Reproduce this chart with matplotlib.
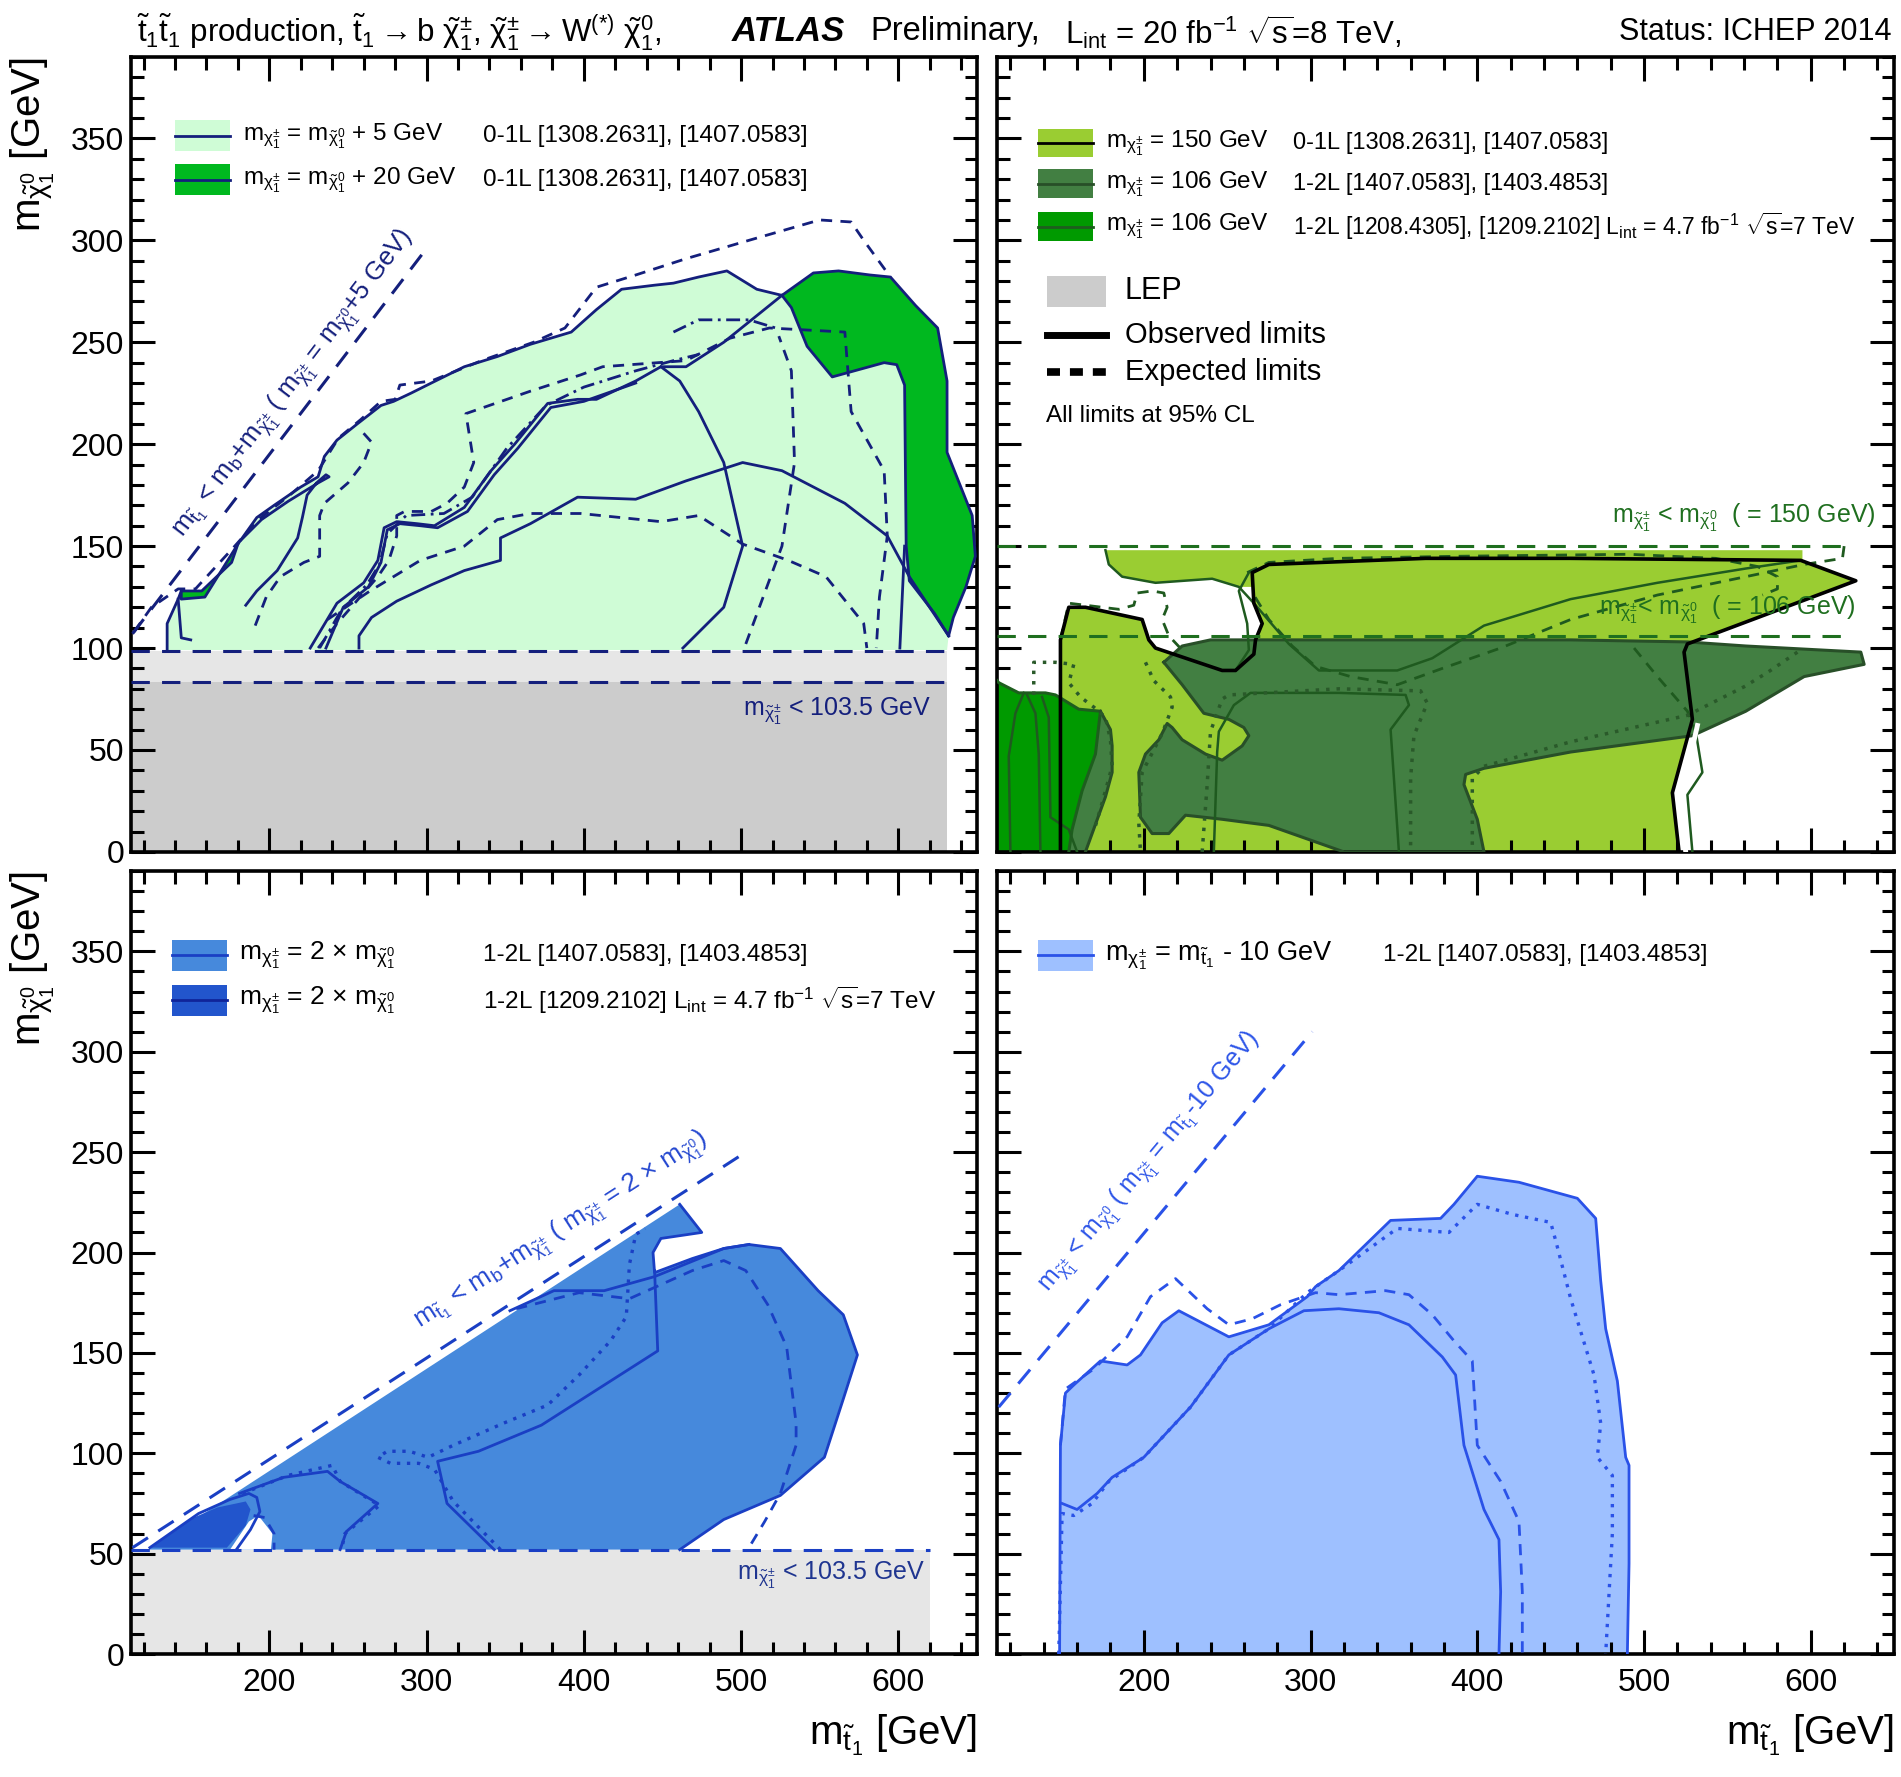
import numpy as np
import matplotlib
matplotlib.use("Agg")
import matplotlib.pyplot as plt
from matplotlib.patches import Polygon, Rectangle
from matplotlib.ticker import MultipleLocator

plt.rcParams['font.family'] = ['Liberation Sans', 'DejaVu Sans']
plt.rcParams['mathtext.fontset'] = 'custom'
plt.rcParams['mathtext.rm'] = 'Liberation Sans'
plt.rcParams['mathtext.it'] = 'Liberation Sans:italic'
plt.rcParams['mathtext.bf'] = 'Liberation Sans:bold'
plt.rcParams['mathtext.default'] = 'regular'

# ---------------- data (m_stop, m_chi0) in GeV ----------------
XLIM = (112, 650)
YLIM = (0, 390)

# top-left: m_chi+- = m_chi0 + 5 / + 20 GeV
tl_fill_p5 = [(135, 99), (135, 112), (142, 124), (144, 128), (157, 128), (176, 142), (180, 151),
              (192, 164), (203, 170), (220, 179), (231, 184), (235, 194), (243, 202), (256, 210),
              (271, 219), (279, 221), (290, 225), (303, 230), (324, 238), (345, 243), (366, 249),
              (392, 255), (408, 266), (424, 276), (445, 278), (457, 279), (473, 282), (491, 285),
              (510, 276), (526, 273), (546, 284), (562, 285), (582, 283), (595, 282), (611, 268),
              (625, 257), (631, 231), (631, 196), (647, 165), (649, 145), (643, 130), (635, 115),
              (632, 106), (631, 99)]
tl_fill_p20 = [(526, 273), (546, 284), (562, 285), (582, 283), (595, 282), (611, 268), (625, 257),
               (631, 231), (631, 196), (647, 165), (649, 145), (643, 130), (635, 115), (632, 106),
               (623, 117), (607, 133), (605, 150), (604, 229), (599, 239), (591, 240), (558, 233),
               (542, 248), (532, 267)]
tl_fill_p20_low = [(144, 128), (157, 128), (176, 142), (180, 151), (159, 125), (144, 124)]
tl_obs = [
    [(226, 100), (243, 122), (260, 132), (269, 143), (273, 159), (281, 162), (294, 161), (305, 160),
     (324, 169), (341, 187), (356, 200), (377, 220), (396, 222), (408, 222), (433, 231), (449, 238),
     (465, 238), (489, 250), (526, 273)],
    [(236, 100), (247, 120), (263, 130), (271, 142), (275, 158), (283, 161), (296, 160), (307, 159),
     (326, 167), (343, 185), (358, 198), (379, 218), (400, 221), (433, 230)],
    [(185, 121), (192, 128), (205, 138), (218, 154), (221, 164), (224, 175), (230, 181), (236, 185),
     (238, 184), (231, 181), (212, 172), (195, 163), (182, 153)],
    [(257, 100), (257, 106), (265, 115), (281, 123), (303, 131), (324, 138), (347, 143), (347, 154),
     (366, 161), (396, 174), (433, 173), (465, 182), (501, 191), (526, 187), (566, 171), (593, 155),
     (607, 135), (632, 106)],
    [(463, 100), (489, 120), (501, 150), (489, 191), (473, 216), (461, 231), (449, 238)],
    [(604, 150), (601, 100)],
    [(142, 124), (144, 105), (150, 104)],
]
tl_exp = [
    [(114, 108), (125, 120), (142, 129), (153, 129), (178, 150), (193, 163), (213, 175), (231, 187),
     (244, 203), (258, 212), (271, 221), (280, 222), (283, 229), (303, 231), (335, 241), (368, 250),
     (388, 257), (408, 277), (433, 283), (465, 291), (505, 300), (550, 310), (570, 309), (578, 300),
     (595, 282)],
    [(191, 111), (198, 125), (207, 135), (222, 142), (232, 145), (232, 165), (235, 171), (250, 181),
     (260, 191), (265, 201), (258, 207)],
    [(231, 100), (243, 112), (269, 135), (276, 143), (281, 155), (281, 165), (286, 167), (303, 167),
     (313, 171), (324, 179), (330, 191), (325, 215), (366, 226), (398, 234), (412, 238), (465, 241),
     (493, 252), (518, 257), (566, 255), (570, 216), (591, 187), (593, 155), (588, 125), (586, 100)],
    [(237, 114), (264, 128), (296, 143), (324, 150), (345, 163), (366, 166), (398, 166), (449, 162),
     (473, 165), (501, 151), (530, 143), (554, 135), (578, 112), (580, 100)],
    [(503, 102), (526, 150), (534, 191), (532, 236), (524, 253)],
]
tl_dashdot = [
    [(232, 100), (246, 119), (262, 131), (270, 141), (275, 156), (287, 165), (311, 166), (329, 174),
     (351, 198), (376, 219), (400, 228), (433, 236), (457, 241), (473, 244)],
    [(457, 255), (473, 261), (505, 261), (522, 257)],
]
tl_kin = [(113, 107), (297, 293)]
tl_lep = [98.5, 83.5]
tl_lep_xmax = 631

# top-right: m_chi+- = 150 / 106 GeV
tr_fill_150 = [(177, 148), (595, 148), (595, 143), (627, 133), (526, 102), (524, 98), (529, 65),
               (517, 29), (521, 0), (150, 0), (150, 104), (155, 120), (165, 120), (199, 114),
               (203, 104), (207, 100), (247, 89), (255, 89), (266, 97), (267, 104), (271, 112),
               (266, 122), (265, 130), (257, 130), (241, 134), (207, 132), (187, 135), (179, 141)]
tr_obs_150 = [(150, 0), (150, 104), (155, 120), (165, 120), (199, 114), (203, 104), (207, 100),
              (247, 89), (255, 89), (266, 97), (267, 104), (271, 112), (266, 122), (265, 137),
              (275, 141), (369, 144), (456, 144), (594, 143), (627, 133), (526, 102), (524, 98),
              (529, 65), (517, 29), (521, 0)]
tr_fill_106 = [(212, 93), (223, 101), (240, 104), (261, 104), (352, 104), (456, 104), (526, 103),
               (561, 101), (630, 98), (632, 92), (596, 86), (561, 69), (529, 57), (456, 49),
               (404, 41), (393, 38), (392, 33), (400, 16), (404, 0), (320, 0), (275, 13), (247, 16),
               (225, 18), (215, 9), (205, 9), (198, 17), (197, 39), (201, 48), (209, 55), (214, 63),
               (217, 61), (223, 55), (237, 48), (247, 45), (259, 52), (263, 57), (260, 61), (251, 65),
               (236, 68), (223, 82)]
tr_fill_7tev = [(112, 84), (113, 83), (125, 78), (141, 78), (147, 77), (161, 70), (174, 69),
                (173, 62), (171, 48), (163, 30), (157, 11), (155, 0), (112, 0)]
tr_sliver_106 = [(174, 69), (180, 60), (181, 52), (181, 39), (177, 27), (165, 0), (155, 0),
                 (157, 11), (163, 30), (171, 48), (173, 62)]
tr_thin = [
    [(177, 148), (179, 141), (187, 135), (207, 132), (241, 134), (257, 130), (266, 122), (287, 102),
     (305, 89), (352, 89), (373, 95), (404, 111), (456, 124), (508, 132), (561, 139), (594, 143)],
    [(263, 137), (257, 128), (262, 112), (263, 99), (255, 89)],
    [(120, 0), (119, 47), (123, 68), (128, 78)],
    [(130, 77), (135, 68), (137, 48), (138, 0)],
    [(139, 76), (143, 66), (144, 17), (155, 11), (160, 0)],
    [(531, 59), (535, 39), (526, 28), (529, 0)],
    [(242, 0), (244, 49), (245, 59), (254, 72), (264, 78), (317, 78), (357, 77), (359, 72),
     (348, 60), (353, 0)],
]
tr_dash = [
    [(620, 150), (619, 144), (596, 141), (561, 135), (508, 126), (456, 114), (414, 100), (379, 90),
     (352, 82), (324, 86), (303, 91), (289, 101), (275, 114), (266, 126)],
    [(262, 137), (275, 142), (317, 144), (386, 145), (491, 146), (543, 144), (568, 140), (580, 135),
     (580, 129), (571, 126)],
    [(494, 100), (508, 86), (526, 69), (531, 59)],
    [(150, 104), (155, 122), (185, 119), (194, 121), (196, 127), (205, 128), (212, 127), (214, 120),
     (211, 114), (215, 106), (223, 99)],
]
tr_dot = [
    [(134, 77), (134, 93), (147, 93), (158, 92), (155, 83), (162, 76), (170, 71), (177, 66),
     (180, 55), (181, 42), (175, 24), (170, 10)],
    [(201, 93), (206, 84), (216, 76), (217, 71), (211, 58), (199, 39), (197, 14), (198, 0)],
    [(592, 98), (574, 88), (560, 81), (526, 67), (456, 54), (404, 42), (397, 36), (397, 0)],
    [(235, 0), (238, 33), (240, 59), (247, 75), (251, 77), (317, 80), (366, 79), (370, 73),
     (362, 57), (360, 36), (360, 0)],
]
tr_white = [(532, 62), (526, 40), (521, 28), (525, 0)]
tr_kin_lines = [150, 106]
tr_kin_xmax = 620

# bottom-left: m_chi+- = 2 x m_chi0
bl_fill = [(123, 52), (461, 224), (475, 210), (449, 207), (444, 200), (445, 190), (469, 197),
           (489, 202), (505, 204), (525, 202), (549, 181), (565, 169), (574, 149), (565, 127),
           (553, 98), (525, 79), (489, 67), (461, 52)]
bl_hole = [(175, 52), (187, 66), (193, 69), (202, 60), (201, 52)]
bl_fill_7tev = [(125, 53), (149, 67), (167, 73), (185, 76), (188, 72), (185, 64), (173, 53)]
bl_obs = [
    [(124, 53), (155, 70), (175, 77), (187, 80), (192, 78), (194, 71), (188, 62), (179, 52)],
    [(181, 80), (209, 88), (237, 91), (245, 86), (269, 75), (249, 61), (245, 52)],
    [(343, 52), (313, 75), (307, 96), (333, 101), (373, 114), (413, 134), (447, 151), (445, 191)],
    [(353, 171), (381, 181), (413, 181), (445, 188), (489, 202), (505, 204)],
]
bl_exp = [
    [(357, 172), (397, 180), (429, 177), (469, 191), (489, 196), (503, 191), (517, 174), (529, 153),
     (535, 115), (535, 104), (525, 80), (515, 66), (505, 53)],
    [(190, 69), (197, 68), (203, 60), (203, 52)],
]
bl_dot = [
    [(183, 80), (212, 89), (240, 94), (245, 86), (270, 74), (248, 60), (246, 52)],
    [(347, 52), (317, 76), (305, 92), (295, 95), (277, 95), (269, 98), (275, 101), (289, 101),
     (301, 98), (317, 104), (349, 115), (377, 124), (397, 139), (417, 156), (427, 168), (429, 194),
     (433, 209), (439, 212)],
]
bl_kin = [(113, 53), (503, 250)]
bl_lep = 51.75
bl_lep_xmax = 620

# bottom-right: m_chi+- = m_stop - 10 GeV
br_fill = [(149.5, 0), (150, 104), (153, 130), (158, 134), (174, 146), (190, 144), (198, 149),
           (211, 165), (221, 171), (251, 158), (275, 164), (298, 178), (303, 183), (317, 191),
           (348, 216), (378, 217), (386, 224), (400, 238), (425, 235), (460, 227), (471, 217),
           (474, 186), (477, 162), (484, 136), (489, 98), (491, 94), (491, 45), (490, 0)]
br_obs = [(151, 75), (160, 72), (172, 80), (181, 88), (200, 98), (228, 123), (251, 149), (275, 162),
          (296, 171), (317, 172), (341, 170), (359, 164), (379, 148), (387, 139), (392, 104),
          (404, 72), (413, 57), (414, 31), (413, 0)]
br_exp = [(150, 104), (153, 132), (170, 142), (190, 158), (204, 178), (219, 187), (238, 172),
          (251, 164), (265, 167), (282, 174), (303, 180), (317, 179), (345, 181), (359, 179),
          (373, 169), (386, 156), (397, 146), (400, 104), (414, 86), (425, 66), (427, 31), (427, 0)]
br_dot = [(149, 0), (151, 70), (158, 69), (169, 75), (179, 86), (200, 98), (228, 123), (251, 149),
          (275, 162), (298, 180), (317, 191), (352, 212), (383, 210), (400, 224), (421, 219),
          (444, 215), (447, 206), (456, 177), (470, 139), (474, 115), (472, 98), (481, 89),
          (481, 60), (477, 0)]
br_kin = [(113, 123), (301, 310)]

# ---------------- colours ----------------
NAVY = '#141f7c'
TL_LIGHT = '#cffcd6'
TL_DARK = '#00b81f'
GREY_L = '#e6e6e6'
GREY_D = '#cccccc'
TR_YG = '#9acd32'
TR_DG = '#427f42'
TR_BG = '#009a00'
TR_LINE = '#1f5a1f'
TR_TXT = '#1f6f1f'
BL_MED = '#4689dc'
BL_DARK = '#2255cc'
BL_LINE = '#1a3fc4'
BR_FILL = '#9ec0ff'
BR_LINE = '#2a52e8'

DASH = (0, (4, 3))
KDASH = (0, (6, 4))
DOT = (0, (1, 2))
DASHDOT = (0, (5, 2, 1, 2))


def fill(ax, pts, color, z=1, **kw):
    ax.add_patch(Polygon(pts, closed=True, facecolor=color, edgecolor='none', zorder=z, **kw))


def line(ax, pts, color, ls='-', lw=2.0, z=3):
    xs, ys = zip(*pts)
    ax.plot(xs, ys, color=color, ls=ls, lw=lw, zorder=z, solid_joinstyle='round')


def style(ax, xlab, ylab):
    ax.set_xlim(*XLIM)
    ax.set_ylim(*YLIM)
    ax.xaxis.set_major_locator(MultipleLocator(100))
    ax.xaxis.set_minor_locator(MultipleLocator(20))
    ax.yaxis.set_major_locator(MultipleLocator(50))
    ax.yaxis.set_minor_locator(MultipleLocator(10))
    ax.tick_params(which='both', direction='in', top=True, right=True, width=2.2,
                   labelsize=23, labelbottom=xlab, labelleft=ylab)
    ax.tick_params(which='major', length=17)
    ax.tick_params(which='minor', length=9)
    ax.tick_params(axis='x', pad=10)
    ax.tick_params(axis='y', pad=5)
    for s in ax.spines.values():
        s.set_linewidth(2.6)
    if xlab:
        ax.set_xlabel(r'm$_{\tilde{t}_{1}}$ [GeV]', fontsize=29, loc='right')
        ax.xaxis.set_label_coords(1.0, -0.075)
        ax.xaxis.label.set_va('top')
    if ylab:
        ax.set_ylabel(r'm$_{\tilde{\chi}^{0}_{1}}$ [GeV]', fontsize=29, loc='top')
        ax.yaxis.set_label_coords(-0.116, 1.0)
        ax.yaxis.label.set_va('center')


def kin_label(ax, pts, pos, txt, color, fs=17):
    a = ax.transData.transform(pts)
    ang = np.degrees(np.arctan2(a[1, 1] - a[0, 1], a[1, 0] - a[0, 0]))
    ax.text(pos[0], pos[1], txt, rotation=ang, rotation_mode='anchor', ha='left',
            va='baseline', color=color, fontsize=fs, zorder=6)


def legend_box(ax, x0, x1, y0, y1, fc, lc, lw=2.0):
    ax.add_patch(Rectangle((x0, y0), x1 - x0, y1 - y0, facecolor=fc, edgecolor='none', zorder=5))
    ax.plot([x0, x1], [(y0 + y1) / 2] * 2, color=lc, lw=lw, zorder=6)


fig = plt.figure(figsize=(19.01, 17.77), dpi=100)
ax_tl = fig.add_axes([0.0689, 0.5206, 0.4450, 0.4474])
ax_tr = fig.add_axes([0.5245, 0.5206, 0.4719, 0.4474])
ax_bl = fig.add_axes([0.0689, 0.0692, 0.4450, 0.4406])
ax_br = fig.add_axes([0.5245, 0.0692, 0.4719, 0.4406])
style(ax_tl, False, True)
style(ax_tr, False, False)
style(ax_bl, True, True)
style(ax_br, True, False)

leg_fs = 17.5

# ---------------- top-left ----------------
ax = ax_tl
ax.add_patch(Rectangle((XLIM[0], tl_lep[1]), tl_lep_xmax - XLIM[0], tl_lep[0] - tl_lep[1],
                       facecolor=GREY_L, edgecolor='none', zorder=1))
ax.add_patch(Rectangle((XLIM[0], 0), tl_lep_xmax - XLIM[0], tl_lep[1],
                       facecolor=GREY_D, edgecolor='none', zorder=1))
fill(ax, tl_fill_p5, TL_LIGHT)
fill(ax, tl_fill_p20, TL_DARK, z=2)
fill(ax, tl_fill_p20_low, TL_DARK, z=2)
line(ax, tl_fill_p5[:-1], NAVY)
line(ax, tl_fill_p20[13:] + tl_fill_p20[:1], NAVY)
line(ax, tl_fill_p20_low[3:] + tl_fill_p20_low[:1], NAVY)
for pts in tl_obs:
    line(ax, pts, NAVY)
for pts in tl_exp:
    line(ax, pts, NAVY, ls=DASH)
for pts in tl_dashdot:
    line(ax, pts, NAVY, ls=DASHDOT)
for yv in tl_lep:
    ax.plot([XLIM[0], tl_lep_xmax], [yv, yv], color=NAVY, ls=KDASH, lw=2.2, zorder=4)
line(ax, tl_kin, NAVY, ls=KDASH, lw=2.2, z=4)
kin_label(ax, tl_kin, (145, 154),
          r'm$_{\tilde{t}_{1}}$ < m$_{b}$+m$_{\tilde{\chi}^{\pm}_{1}}$ ( m$_{\tilde{\chi}^{\pm}_{1}}$ = m$_{\tilde{\chi}^{0}_{1}}$+5 GeV)',
          NAVY, fs=18.5)
ax.text(621, 69, r'm$_{\tilde{\chi}^{\pm}_{1}}$ < 103.5 GeV', color=NAVY, fontsize=18,
        ha='right', va='center', zorder=6)
legend_box(ax, 140, 175, 343.6, 358.8, TL_LIGHT, NAVY)
legend_box(ax, 140, 175, 322.1, 337.3, TL_DARK, NAVY)
ax.text(183, 351, r'm$_{\chi^{\pm}_{1}}$ = m$_{\tilde{\chi}^{0}_{1}}$ + 5 GeV', fontsize=leg_fs, va='center')
ax.text(183, 329.7, r'm$_{\chi^{\pm}_{1}}$ = m$_{\tilde{\chi}^{0}_{1}}$ + 20 GeV', fontsize=leg_fs, va='center')
ax.text(336, 351, '0-1L [1308.2631], [1407.0583]', fontsize=leg_fs, va='center')
ax.text(336, 329.7, '0-1L [1308.2631], [1407.0583]', fontsize=leg_fs, va='center')

# ---------------- top-right ----------------
ax = ax_tr
fill(ax, tr_fill_150, TR_YG)
fill(ax, tr_fill_106, TR_DG, z=2)
fill(ax, tr_fill_7tev, TR_BG, z=2)
fill(ax, tr_sliver_106, TR_DG, z=2)
line(ax, tr_fill_106 + tr_fill_106[:1], '#284f28', lw=2.2)
line(ax, tr_fill_7tev[:-1], '#1e5e1e', lw=2.2)
line(ax, tr_sliver_106[:6], '#284f28', lw=2.2)
for pts in tr_thin:
    line(ax, pts, TR_LINE, lw=1.8)
for pts in tr_dash:
    line(ax, pts, TR_LINE, ls=DASH, lw=2.0)
for pts in tr_dot:
    line(ax, pts, '#2a5a2a', ls=DOT, lw=2.5)
line(ax, tr_white, 'white', lw=3.5, z=3)
line(ax, tr_obs_150, 'black', lw=2.6, z=4)
for yv in tr_kin_lines:
    ax.plot([XLIM[0], tr_kin_xmax], [yv, yv], color=TR_TXT, ls=KDASH, lw=2.2, zorder=4)
ax.text(639, 164, r'm$_{\tilde{\chi}^{\pm}_{1}}$ < m$_{\tilde{\chi}^{0}_{1}}$  ( = 150 GeV)',
        color=TR_TXT, fontsize=18, ha='right', va='center', zorder=6)
ax.text(627, 118.6, r'm$_{\tilde{\chi}^{\pm}_{1}}$< m$_{\tilde{\chi}^{0}_{1}}$  ( = 106 GeV)',
        color=TR_TXT, fontsize=18, ha='right', va='center', zorder=6)
legend_box(ax, 136.6, 169.7, 340.8, 354.8, TR_YG, 'black')
legend_box(ax, 136.6, 169.7, 320.6, 334.8, TR_DG, '#284f28')
legend_box(ax, 136.6, 169.7, 299.8, 313.7, TR_BG, '#1e5e1e')
ax.text(177.4, 347.8, r'm$_{\chi^{\pm}_{1}}$ = 150 GeV', fontsize=leg_fs, va='center')
ax.text(177.4, 327.7, r'm$_{\chi^{\pm}_{1}}$ = 106 GeV', fontsize=leg_fs, va='center')
ax.text(177.4, 306.8, r'm$_{\chi^{\pm}_{1}}$ = 106 GeV', fontsize=leg_fs, va='center')
ax.text(289.5, 347.8, '0-1L [1308.2631], [1407.0583]', fontsize=leg_fs - 0.5, va='center')
ax.text(289.5, 327.7, '1-2L [1407.0583], [1403.4853]', fontsize=leg_fs - 0.5, va='center')
ax.text(289.5, 306.8, r'1-2L [1208.4305], [1209.2102] L$_{int}$ = 4.7 fb$^{-1}$ $\sqrt{s}$=7 TeV',
        fontsize=16.5, va='center')
ax.add_patch(Rectangle((141.8, 267.4), 35.6, 15.2, facecolor=GREY_D, edgecolor='none', zorder=5))
ax.text(188.5, 275, 'LEP', fontsize=22, va='center')
ax.plot([141.8, 177.4], [253.4, 253.4], color='black', lw=5, zorder=5)
ax.text(188.5, 253.4, 'Observed limits', fontsize=21, va='center')
ax.plot([141.8, 177.4], [235.2, 235.2], color='black', lw=5.5, ls=(0, (1.7, 1.3)), zorder=5)
ax.text(188.5, 235.2, 'Expected limits', fontsize=21, va='center')
ax.text(141.5, 214, 'All limits at 95% CL', fontsize=leg_fs, va='center')

# ---------------- bottom-left ----------------
ax = ax_bl
ax.add_patch(Rectangle((XLIM[0], 0), bl_lep_xmax - XLIM[0], bl_lep, facecolor=GREY_L,
                       edgecolor='none', zorder=1))
fill(ax, bl_fill, BL_MED)
fill(ax, bl_hole, 'white', z=2)
fill(ax, bl_fill_7tev, BL_DARK, z=2)
line(ax, bl_fill[1:], BL_LINE)
for pts in bl_obs:
    line(ax, pts, BL_LINE)
for pts in bl_exp:
    line(ax, pts, BL_LINE, ls=DASH)
for pts in bl_dot:
    line(ax, pts, BL_LINE, ls=DOT, lw=2.4)
ax.plot([XLIM[0], bl_lep_xmax], [bl_lep, bl_lep], color=BL_LINE, ls=KDASH, lw=2.2, zorder=4)
line(ax, bl_kin, BL_LINE, ls=KDASH, lw=2.2, z=4)
kin_label(ax, bl_kin, (296, 162),
          r'm$_{\tilde{t}_{1}}$ < m$_{b}$+m$_{\tilde{\chi}^{\pm}_{1}}$ ( m$_{\tilde{\chi}^{\pm}_{1}}$ = 2 $\times$ m$_{\tilde{\chi}^{0}_{1}}$)',
          '#2548d0', fs=19)
ax.text(617, 39, r'm$_{\tilde{\chi}^{\pm}_{1}}$ < 103.5 GeV', color='#1f3590', fontsize=18,
        ha='right', va='center', zorder=6)
legend_box(ax, 138, 172.8, 340.3, 355.8, BL_MED, BL_LINE)
legend_box(ax, 138, 172.8, 317.8, 333.3, BL_DARK, '#10249a')
ax.text(180.8, 348, r'm$_{\chi^{\pm}_{1}}$ = 2 $\times$ m$_{\tilde{\chi}^{0}_{1}}$', fontsize=19, va='center')
ax.text(180.8, 325.6, r'm$_{\chi^{\pm}_{1}}$ = 2 $\times$ m$_{\tilde{\chi}^{0}_{1}}$', fontsize=19, va='center')
ax.text(336, 348, '1-2L [1407.0583], [1403.4853]', fontsize=leg_fs, va='center')
ax.text(336, 325.6, r'1-2L [1209.2102] L$_{int}$ = 4.7 fb$^{-1}$ $\sqrt{s}$=7 TeV', fontsize=leg_fs,
        va='center')

# ---------------- bottom-right ----------------
ax = ax_br
fill(ax, br_fill, BR_FILL)
line(ax, br_fill, BR_LINE)
line(ax, br_obs, BR_LINE)
line(ax, br_exp, BR_LINE, ls=DASH)
line(ax, br_dot, BR_LINE, ls=DOT, lw=2.4)
line(ax, br_kin, BR_LINE, ls=KDASH, lw=2.2, z=4)
kin_label(ax, br_kin, (143, 180),
          r'm$_{\tilde{\chi}^{\pm}_{1}}$ < m$_{\tilde{\chi}^{0}_{1}}$ ( m$_{\tilde{\chi}^{\pm}_{1}}$ = m$_{\tilde{t}_{1}}$-10 GeV)',
          '#2d55e8', fs=18)
legend_box(ax, 136.6, 169.7, 340.3, 355.8, BR_FILL, BR_LINE)
ax.text(176.7, 348, r'm$_{\chi^{\pm}_{1}}$ = m$_{\tilde{t}_{1}}$ - 10 GeV', fontsize=19.5, va='center')
ax.text(343.2, 348, '1-2L [1407.0583], [1403.4853]', fontsize=leg_fs, va='center')

# ---------------- header ----------------
ty = 0.982
fig.text(0.072, ty, r'$\tilde{t}_{1}\tilde{t}_{1}$ production, '
         r'$\tilde{t}_{1} \rightarrow b\ \tilde{\chi}^{\pm}_{1}$, '
         r'$\tilde{\chi}^{\pm}_{1} \rightarrow W^{(*)}\ \tilde{\chi}^{0}_{1}$,', fontsize=22.5, va='center')
fig.text(0.385, ty, 'ATLAS', fontsize=25, fontweight='bold', style='italic', va='center')
fig.text(0.458, ty, 'Preliminary,', fontsize=23.5, va='center')
fig.text(0.560, ty, r'L$_{int}$ = 20 fb$^{-1}$ $\sqrt{s}$=8 TeV,', fontsize=22.5, va='center')
fig.text(0.995, ty, 'Status: ICHEP 2014', fontsize=22, va='center', ha='right')

fig.savefig('out.png', dpi=100)
